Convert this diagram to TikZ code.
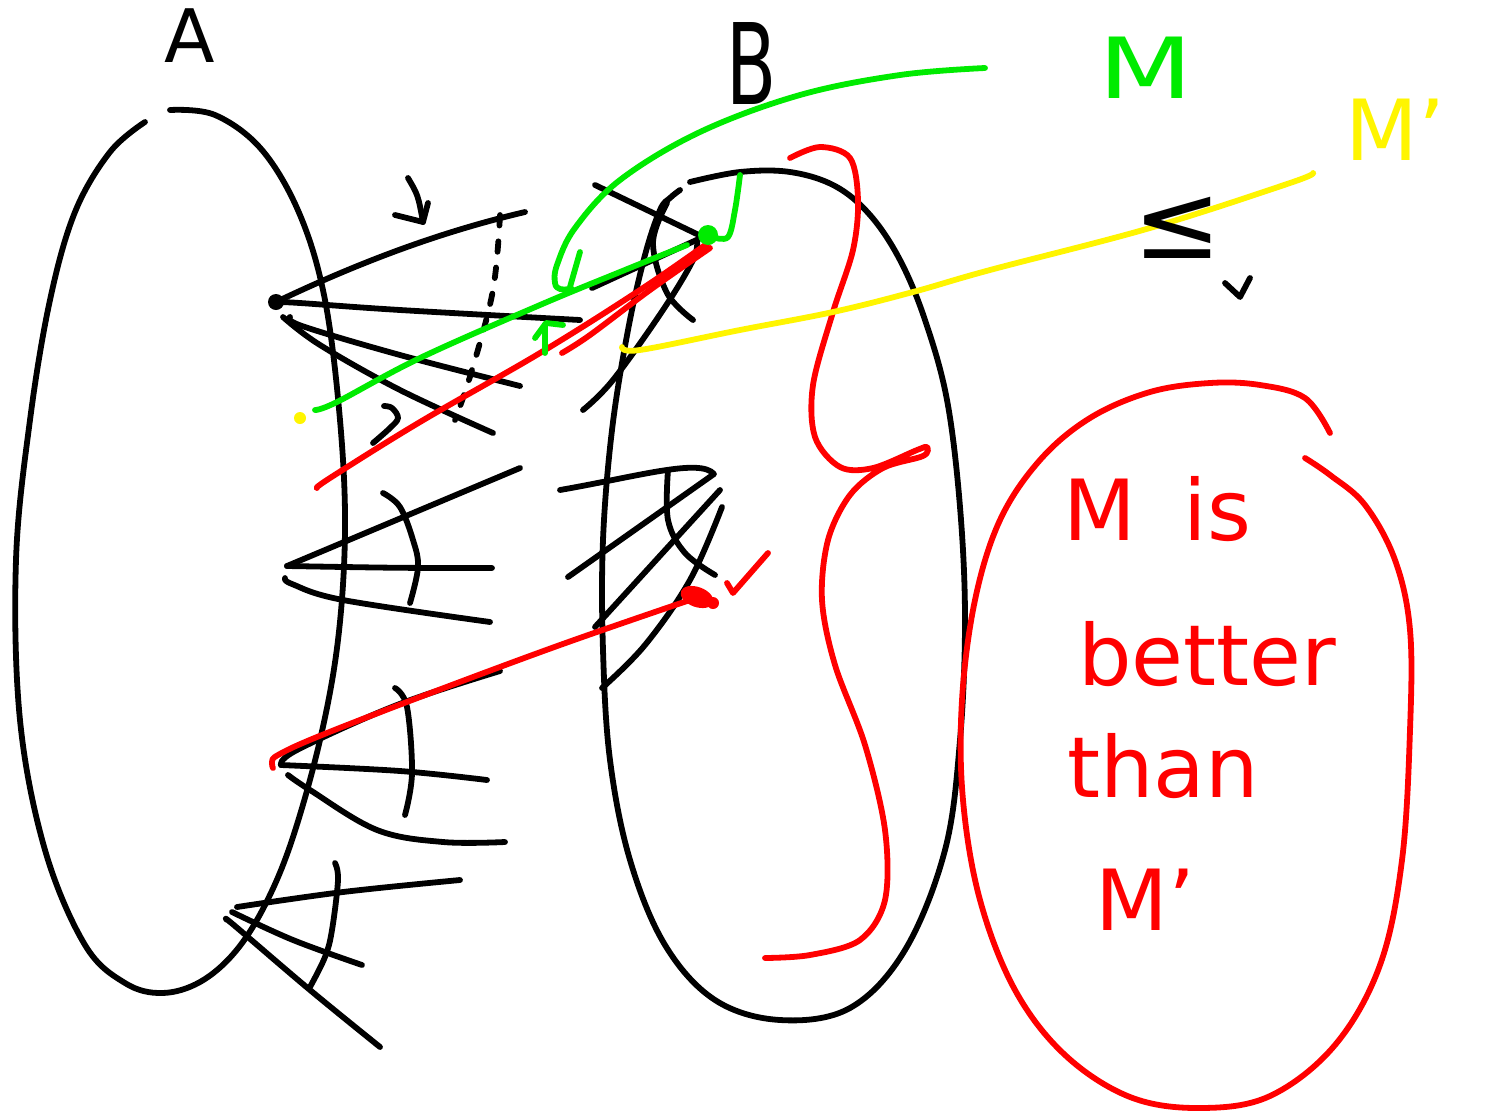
\documentclass[tikz,border=0pt]{standalone}
\usepackage{fontspec}
\setmainfont{DejaVu Sans}
\definecolor{pred}{RGB}{255,0,0}
\definecolor{pgreen}{RGB}{0,235,0}
\definecolor{pyellow}{RGB}{255,245,0}
\tikzset{
  ink/.style={line width=3.3pt, line cap=round, line join=round},
  blk/.style={ink, black},
  rd/.style={ink, pred},
  gr/.style={ink, pgreen},
  yl/.style={ink, pyellow},
  lbl/.style={inner sep=0pt, font=\fontsize{48}{58}\selectfont},
}
\begin{document}
\begin{tikzpicture}[x=0.02cm,y=-0.02cm]
\useasboundingbox[fill=white] (0,0) rectangle (1490,1116);

% ---------- set A ----------
\draw[blk] plot[smooth,tension=0.6] coordinates {(145,122) (110,152) (75,212) (50,300) (30,420) (16,560) (20,720) (45,850) (85,945) (125,983) (162,993) (200,982) (235,952) (265,905) (292,840) (320,740) (338,640) (345,530) (340,420) (325,300) (300,215) (262,150) (215,115) (170,110)};
\node[lbl, font=\fontsize{42}{50}\selectfont] (labA) at (190,36) {A};

% ---------- set B ----------
\draw[blk] plot[smooth,tension=0.6] coordinates {(690,182) (740,172) (790,172) (835,186) (870,215) (900,260) (925,320) (947,400) (960,507) (965,620) (960,740) (945,850) (905,950) (850,1008) (780,1020) (715,1000) (665,945) (630,860) (610,760) (603,650) (603,540) (612,430) (628,330) (645,255) (660,210) (670,198) (680,190)};
\node[lbl, font=\fontsize{64}{70}\selectfont, xscale=0.65] (labB) at (752,64) {B};

% ---------- hubs ----------
\coordinate (h1) at (276,302);
\coordinate (h2) at (287,566);
\coordinate (h3) at (281,765);
\coordinate (h4) at (234,910);
\fill (h1) circle (8);

% group 1
\draw[blk] (h1) .. controls (360,262) and (440,232) .. (525,212);
\draw[blk] plot[smooth,tension=0.6] coordinates {(h1) (300,303) (400,310) (580,320)};
\draw[blk] plot[smooth,tension=0.6] coordinates {(290,317) (302,326) (400,355) (520,386)};
\draw[blk] plot[smooth,tension=0.6] coordinates {(283,317) (320,345) (400,390) (493,433)};
\draw[blk, dash pattern=on 6pt off 9pt] plot[smooth,tension=0.6] coordinates {(500,215) (493,290) (472,370) (455,420)};
\draw[blk] (408,178) .. controls (418,195) .. (423,222);
\draw[blk] (395,215) -- (423,222) -- (428,203);
\draw[blk] plot[smooth,tension=0.6] coordinates {(373,443) (390,428) (398,418) (392,408) (384,406)};

% group 2
\draw[blk] (h2) -- (520,468);
\draw[blk] (h2) .. controls (400,568) .. (492,568);
\draw[blk] plot[smooth,tension=0.6] coordinates {(285,578) (292,584) (343,600) (490,622)};
\draw[blk] plot[smooth,tension=0.6] coordinates {(383,493) (400,507) (413,540) (418,567) (410,603)};

% group 3
\draw[blk] plot[smooth,tension=0.6] coordinates {(h3) (297,750) (397,705) (500,671)};
\draw[blk] plot[smooth,tension=0.6] coordinates {(h3) (400,771) (487,780)};
\draw[blk] plot[smooth,tension=0.6] coordinates {(288,775) (310,790) (377,830) (443,842) (505,842)};
\draw[blk] plot[smooth,tension=0.6] coordinates {(395,688) (407,707) (412,773) (405,815)};

% group 4
\draw[blk] plot[smooth,tension=0.6] coordinates {(237,907) (343,892) (460,880)};
\draw[blk] plot[smooth,tension=0.6] coordinates {(232,912) (293,940) (362,965)};
\draw[blk] plot[smooth,tension=0.6] coordinates {(227,920) (235,926) (310,990) (380,1047)};
\draw[blk] plot[smooth,tension=0.6] coordinates {(335,863) (338,880) (332,930) (325,957) (310,987)};

% strokes in B, upper
\draw[blk] (595,185) -- (703,237) -- (592,288);
\draw[blk] plot[smooth,tension=0.6] coordinates {(667,203) (653,243) (667,293) (693,320)};
\draw[blk] plot[smooth,tension=0.6] coordinates {(583,410) (613,380) (663,310) (693,260) (697,240)};

% strokes in B, lower
\draw[blk] (560,490) .. controls (640,476) and (700,458) .. (714,474) -- (568,577);
\draw[blk] (595,627) -- (720,490);
\draw[blk] plot[smooth,tension=0.6] coordinates {(602,688) (645,645) (690,580) (722,507)};
\draw[blk] plot[smooth,tension=0.6] coordinates {(668,470) (668,520) (685,553) (715,575)};

% ---------- red ----------
\draw[rd] plot[smooth,tension=0.6] coordinates {(317,488) (330,478) (420,422) (540,353) (640,290) (708,243)};
\draw[rd] plot[smooth,tension=0.6] coordinates {(562,353) (590,335) (650,290) (710,248)};
\draw[rd] plot[smooth,tension=0.6] coordinates {(273,768) (272,762) (278,755) (317,737) (420,697) (560,645) (690,600)};
\fill[pred, rotate around={-20:(697,597)}] (697,597) ellipse (17 and 10);
\fill[pred] (713,603) circle (6);
\draw[rd] (727,583) -- (733,593) -- (768,553);
\draw[rd] plot[smooth,tension=0.55] coordinates {(790,158) (820,147) (850,158) (858,200) (853,250) (833,312) (813,385) (815,437) (840,467) (873,468) (917,450) (927,447) (923,456) (883,468) (850,495) (828,540) (822,600) (835,665) (865,745) (885,830) (885,900) (860,940) (810,955) (765,958)};
\draw[rd] plot[smooth,tension=0.6] coordinates {(1330,433) (1305,398) (1260,385) (1210,383) (1150,392) (1090,418) (1040,460) (1000,520) (975,600) (962,700) (963,800) (980,900) (1015,990) (1065,1055) (1130,1097) (1200,1108) (1270,1096) (1335,1045) (1380,965) (1402,860) (1410,730) (1410,630) (1395,560) (1365,505) (1330,475) (1305,458)};

\node[lbl, text=pred, anchor=base west] (t1) at (1063,540) {M\hspace{0.25em} is};
\node[lbl, text=pred, anchor=base west] (t2) at (1078,685) {better};
\node[lbl, text=pred, anchor=base west] (t3) at (1067,797) {than};
\node[lbl, text=pred, anchor=base west] (t4) at (1095,930) {M'};

% ---------- green ----------
\draw[gr] plot[smooth,tension=0.6] coordinates {(985,68) (900,75) (800,95) (700,132) (620,180) (575,228) (557,265) (555,283) (560,289) (572,289)};
\draw[gr] (570,287) -- (580,252);
\draw[gr] plot[smooth,tension=0.6] coordinates {(315,410) (337,402) (420,358) (540,305) (620,272) (687,245)};
\fill[pgreen] (708,235) circle (10);
\draw[gr] plot[smooth,tension=0.6] coordinates {(713,237) (728,237) (735,210) (740,175)};
\draw[gr] (545,353) -- (545,325);
\draw[gr] (535,338) -- (546,323) -- (563,325);
\node[lbl, text=pgreen, xscale=1.3] (labM) at (1146,68) {M};

% ---------- yellow ----------
\fill[pyellow] (300,418) circle (6);
\draw[yl] plot[smooth,tension=0.6] coordinates {(622,347) (640,350) (740,330) (833,312) (913,292) (990,270) (1150,228) (1290,183) (1313,173)};
\node[lbl, text=pyellow, anchor=base west] (labMp) at (1345,160) {M'};

% ---------- relation ----------
\node[inner sep=0pt, font=\fontsize{60}{70}\selectfont] (leq) at (1178,228) {≤};
\draw[blk] (1225,283) -- (1240,297) -- (1250,278);

\end{tikzpicture}
\end{document}
